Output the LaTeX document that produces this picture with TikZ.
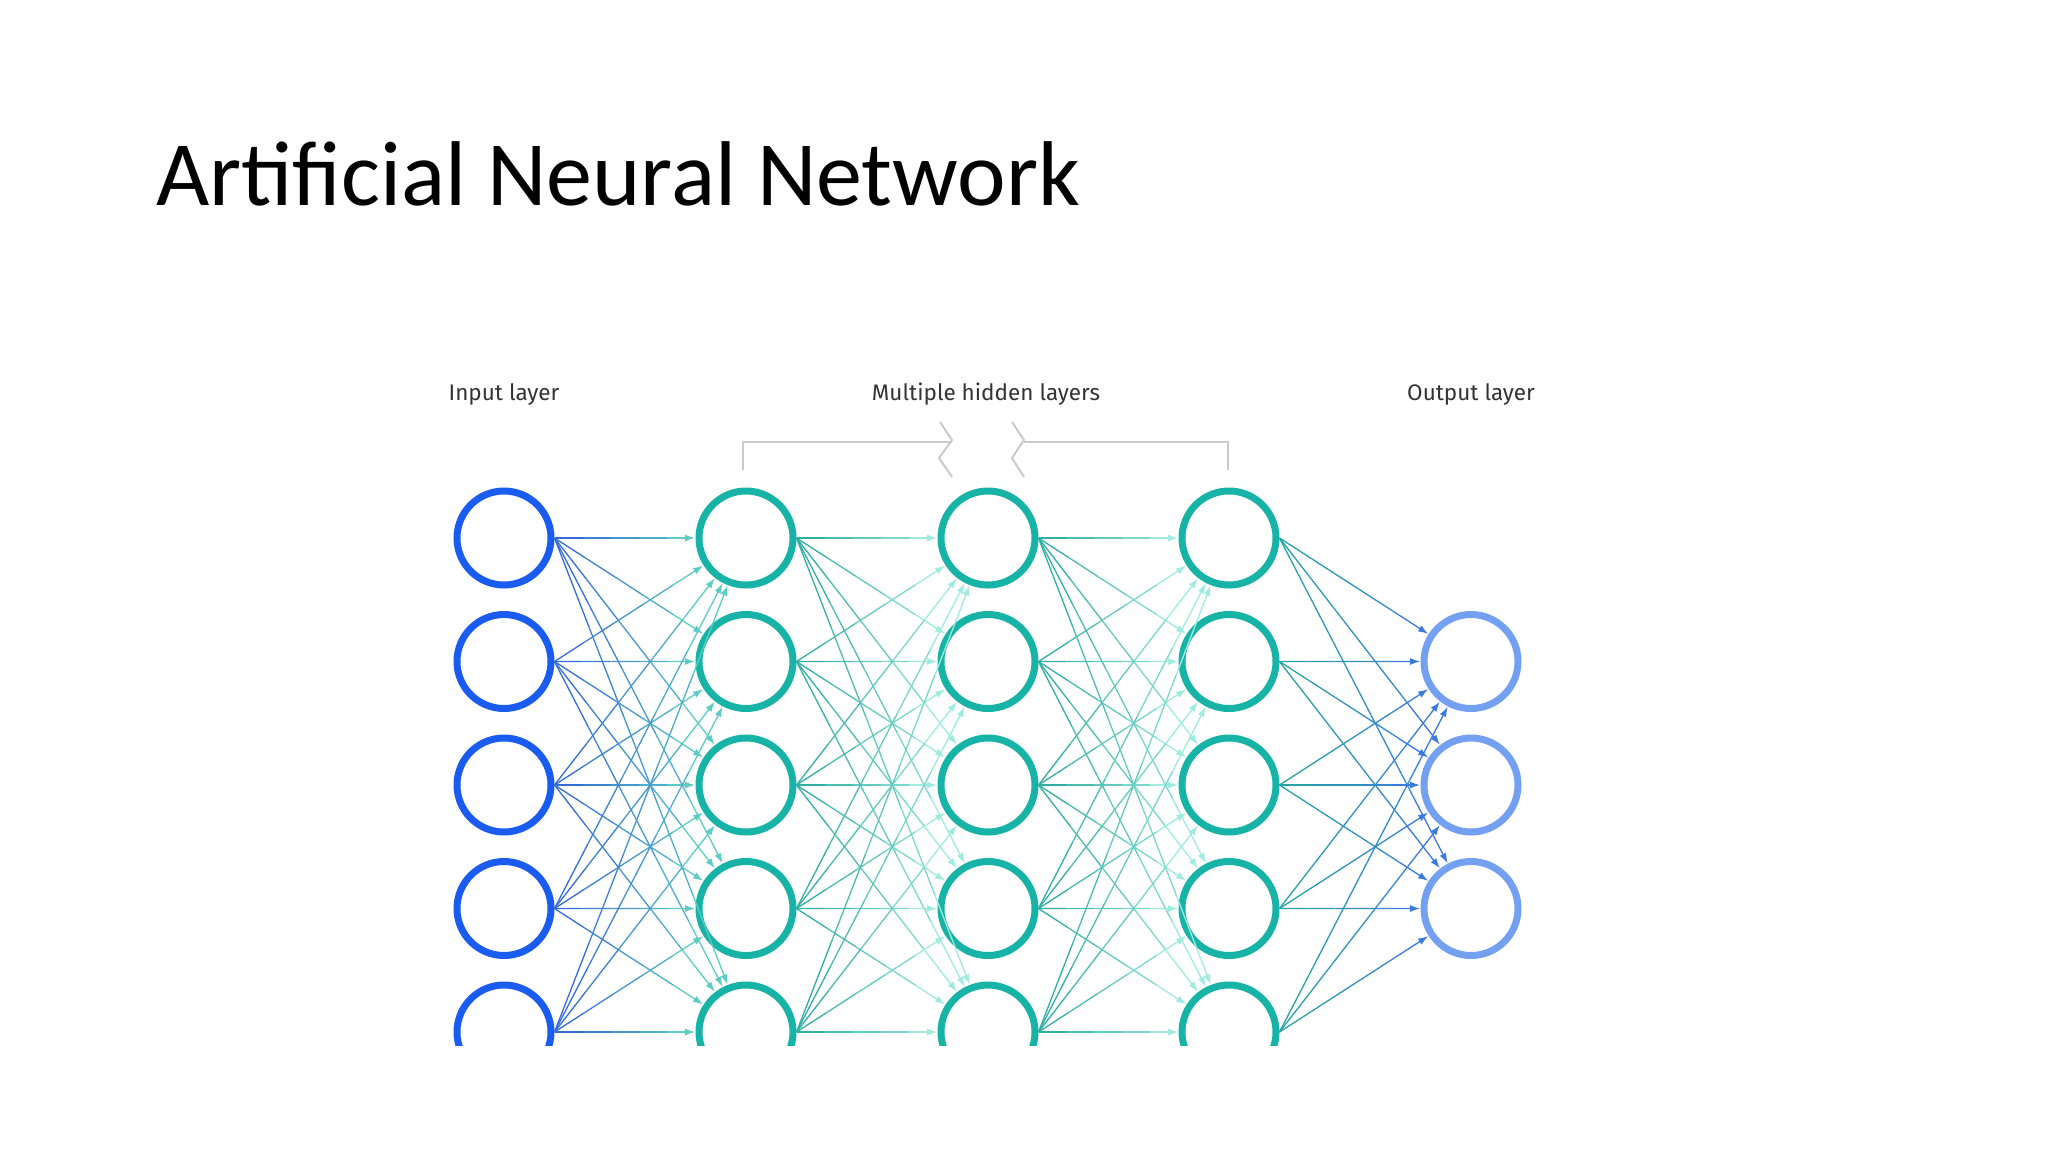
\documentclass[tikz,border=0pt]{standalone}
\usepackage{fontspec}
\setmainfont{Carlito}
\newfontfamily\labelfont{Fira Sans}
\usetikzlibrary{calc,arrows.meta}
\definecolor{inblue}{HTML}{1A5CF0}
\definecolor{hidteal}{HTML}{17B3A7}
\definecolor{outblue}{HTML}{74A0F2}
\definecolor{edgeblue}{HTML}{2F62D8}
\definecolor{edgeteal}{HTML}{25A89F}
\definecolor{edgemint}{HTML}{5CCDC4}
\definecolor{edgeaqua}{HTML}{9FEBE0}
\definecolor{edgeoblue}{HTML}{3A7ADF}
\definecolor{bracketgray}{HTML}{CACACA}
\definecolor{labelgray}{HTML}{333333}
\tikzset{
  neuron/.style={circle, draw, fill=white, line width=7pt, minimum size=94pt, inner sep=0pt},
  innode/.style={neuron, draw=inblue},
  hidnode/.style={neuron, draw=hidteal},
  outnode/.style={neuron, draw=outblue},
  layerlabel/.style={font=\labelfont\fontsize{22.5}{27}\selectfont, text=labelgray, anchor=base},
  bracketline/.style={draw=bracketgray, line width=2pt},
  tipstyle/.style={-{Latex[length=10pt,width=7pt]}},
  edgeline/.style={line width=1.3pt}
}
\newcommand\linkgrad[4]{%
  \coordinate (ls) at (#1.east);
  \coordinate (le) at ($(#2.center)!51pt!(ls)$);
  \foreach \k in {0,...,3}{%
    \pgfmathtruncatemacro\pc{90-\k*20}%
    \draw[edgeline, color=#3!\pc!#4] ($(ls)!{\k/5}!(le)$) -- ($(ls)!{(\k+1)/5}!(le)$);
  }
  \draw[edgeline, tipstyle, color=#4] ($(ls)!0.8!(le)$) -- (le);
}
\begin{document}
\begin{tikzpicture}[x=1pt,y=-1pt]
\useasboundingbox[fill=white] (0,0) rectangle (2048,1152);
% title
\node[anchor=base west, inner sep=0pt, font=\fontsize{92}{100}\selectfont] (title) at (156,205) {Artificial Neural Network};
% labels
\node[layerlabel] (lin) at (504,400) {Input layer};
\node[layerlabel] (lhid) at (986,400) {Multiple hidden layers};
\node[layerlabel] (lout) at (1471,400) {Output layer};
% bracket
\coordinate (bl) at (743,470);
\coordinate (br) at (1228,470);
\draw[bracketline] (bl) -- (743,442) -- (952,442);
\draw[bracketline] (940,422) -- (952,440) -- (939,458) -- (952,477);
\draw[bracketline] (1012,422) -- (1024,440) -- (1012,458) -- (1024,477);
\draw[bracketline] (1024,442) -- (1228,442) -- (br);
\begin{scope}
\clip (0,0) rectangle (2048,1045);
\foreach \r/\y in {1/538,2/661.5,3/785,4/908.5,5/1032}{
  \node[innode] (i\r) at (504,\y) {};
  \node[hidnode] (a\r) at (746,\y) {};
  \node[hidnode] (b\r) at (988,\y) {};
  \node[hidnode] (c\r) at (1229,\y) {};
}
\foreach \r/\y in {1/661.5,2/785,3/908.5}{
  \node[outnode] (o\r) at (1471,\y) {};
}
\foreach \s in {1,...,5}{
  \foreach \t in {1,...,5}{
    \linkgrad{i\s}{a\t}{edgeblue}{edgemint}
    \linkgrad{a\s}{b\t}{edgeteal}{edgeaqua}
    \linkgrad{b\s}{c\t}{edgeteal}{edgeaqua}
  }
  \foreach \t in {1,2,3}{
    \linkgrad{c\s}{o\t}{edgeteal}{edgeoblue}
  }
}
\end{scope}
\end{tikzpicture}
\end{document}
